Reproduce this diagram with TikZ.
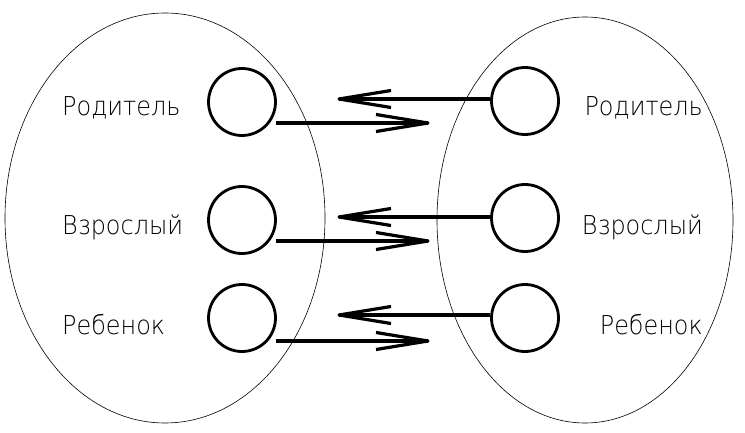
\documentclass[tikz,border=0pt]{standalone}
\usepackage{fontspec}
\newfontfamily\lab[FakeStretch=0.92]{DejaVu Sans ExtraLight}
\usetikzlibrary{decorations.markings}
\begin{document}
\begin{tikzpicture}[x=1pt,y=-1pt,
  group/.style={draw,line width=0.6pt},
  state/.style={draw,circle,line width=2.8pt,minimum size=67pt,inner sep=0pt},
  lbl/.style={font=\lab\fontsize{26}{28}\selectfont,inner sep=0pt},
  link/.style={line width=3.2pt,postaction={decorate,decoration={markings,
    mark=at position 1 with {\draw[line width=3.2pt,line join=round]
      (-52pt,8.5pt) -- (0pt,0pt) -- (-52pt,-8.5pt);}}}}]
\useasboundingbox (0,0) rectangle (745,433);
\draw[group] (165,218) ellipse [x radius=160, y radius=205];
\draw[group] (585,220) ellipse [x radius=148, y radius=203];
\node[state] (L1) at (242,102) {};
\node[state] (L2) at (242,220) {};
\node[state] (L3) at (242,318) {};
\node[state] (R1) at (525,101) {};
\node[state] (R2) at (525,218) {};
\node[state] (R3) at (525,318) {};
\node[lbl,anchor=base west] (tl1) at (62,116) {Родитель};
\node[lbl,anchor=base west] (tl2) at (62,235) {Взрослый};
\node[lbl,anchor=base west] (tl3) at (62,334) {Ребенок};
\node[lbl,anchor=base east] (tr1) at (703,116) {Родитель};
\node[lbl,anchor=base east] (tr2) at (703,235) {Взрослый};
\node[lbl,anchor=base east] (tr3) at (703,334) {Ребенок};
\coordinate (a1) at (339,99);
\coordinate (a2) at (339,217);
\coordinate (a3) at (339,315);
\coordinate (s1) at (276,123);
\coordinate (s2) at (276,241);
\coordinate (s3) at (276,341);
\coordinate (b1) at (428,123);
\coordinate (b2) at (428,241);
\coordinate (b3) at (428,341);
\draw[link] (R1.west |- a1) -- (a1);
\draw[link] (R2.west |- a2) -- (a2);
\draw[link] (R3.west |- a3) -- (a3);
\draw[link] (s1) -- (b1);
\draw[link] (s2) -- (b2);
\draw[link] (s3) -- (b3);
\end{tikzpicture}
\end{document}
